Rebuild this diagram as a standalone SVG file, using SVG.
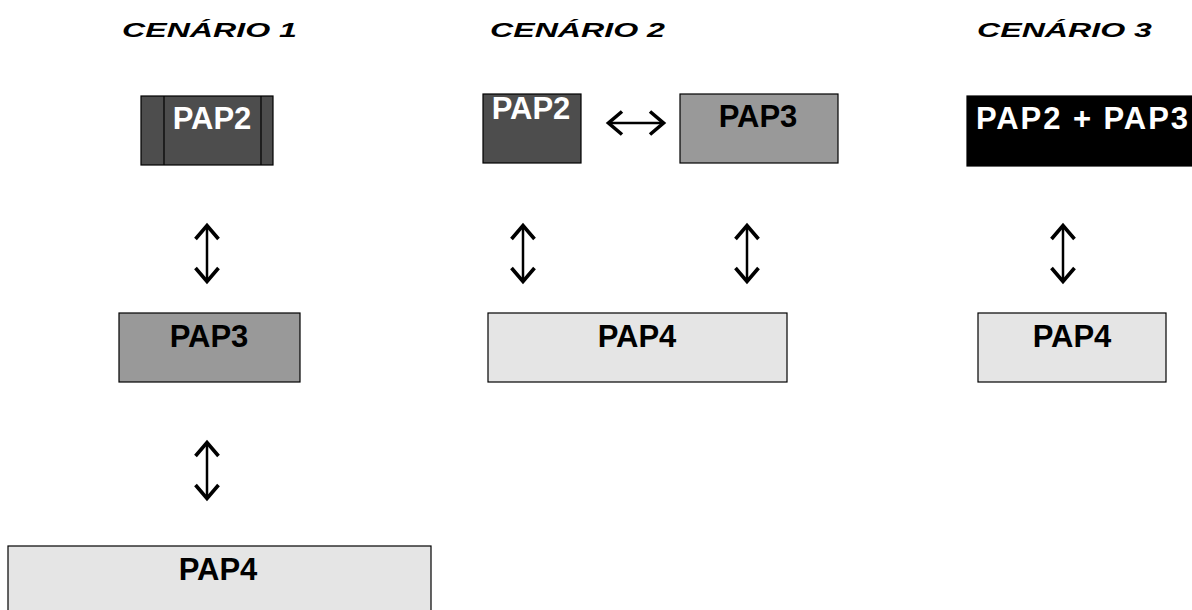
<svg xmlns="http://www.w3.org/2000/svg" width="1192" height="610" viewBox="0 0 1192 610">
<style>
.title{font-family:"Liberation Sans",Arial,sans-serif;font-size:21px;font-weight:bold;font-style:italic;fill:#000}
.lbl{font-family:"Liberation Sans",Arial,sans-serif;font-size:31px;font-weight:bold;text-anchor:middle}
.w{fill:#fff}.k{fill:#000}
.box{stroke:#000;stroke-width:1.2}
.dark{fill:#4d4d4d}.mid{fill:#999999}.light{fill:#e5e5e5}.blk{fill:#000}
.conn{stroke:#000;stroke-width:2.5;fill:none;marker-start:url(#chev);marker-end:url(#chev)}
</style>
<defs>
<marker id="chev" markerUnits="userSpaceOnUse" orient="auto-start-reverse" markerWidth="30" markerHeight="30" viewBox="-18 -15 21 30" refX="0" refY="0" overflow="visible">
<path d="M-14,-11.5 L-0.5,0 L-14,11.5" fill="none" stroke="#000" stroke-width="3.6" stroke-linejoin="miter"/>
</marker>
</defs>
<g id="titles">
<text class="title" x="122" y="37" textLength="175" lengthAdjust="spacingAndGlyphs">CENÁRIO 1</text>
<text class="title" x="490" y="37" textLength="175" lengthAdjust="spacingAndGlyphs">CENÁRIO 2</text>
<text class="title" x="977" y="37" textLength="175" lengthAdjust="spacingAndGlyphs">CENÁRIO 3</text>
</g>
<g id="c1-pap2">
<rect class="box dark" x="141" y="96" width="132" height="69"/>
<line x1="164" y1="96" x2="164" y2="165" stroke="#000" stroke-width="1.2"/>
<line x1="261" y1="96" x2="261" y2="165" stroke="#000" stroke-width="1.2"/>
<text class="lbl w" x="212" y="129">PAP2</text>
</g>
<g id="c1-pap3">
<rect class="box mid" x="119" y="313" width="181" height="69"/>
<text class="lbl k" x="209" y="347">PAP3</text>
</g>
<g id="c1-pap4">
<rect class="box light" x="8" y="546" width="423" height="70"/>
<text class="lbl k" x="218" y="580">PAP4</text>
</g>
<g id="c2-pap2">
<rect class="box dark" x="483" y="94" width="98" height="69"/>
<text class="lbl w" x="531" y="119">PAP2</text>
</g>
<g id="c2-pap3">
<rect class="box mid" x="680" y="94" width="158" height="69"/>
<text class="lbl k" x="758" y="127">PAP3</text>
</g>
<g id="c2-pap4">
<rect class="box light" x="488" y="313" width="299" height="69"/>
<text class="lbl k" x="637" y="347">PAP4</text>
</g>
<g id="c3-pap23">
<rect class="box blk" x="967" y="96" width="240" height="70" stroke="#666"/>
<text class="lbl w" x="1082" y="129" textLength="212" lengthAdjust="spacing">PAP2 + PAP3</text>
</g>
<g id="c3-pap4">
<rect class="box light" x="978" y="313" width="188" height="69"/>
<text class="lbl k" x="1072" y="347">PAP4</text>
</g>
<g id="connectors">
<path class="conn" d="M207,225 V282"/>
<path class="conn" d="M207,442 V499"/>
<path class="conn" d="M523,225 V282"/>
<path class="conn" d="M747,225 V282"/>
<path class="conn" d="M1063,225 V282"/>
<path class="conn" d="M608,123 H664"/>
</g>
</svg>
